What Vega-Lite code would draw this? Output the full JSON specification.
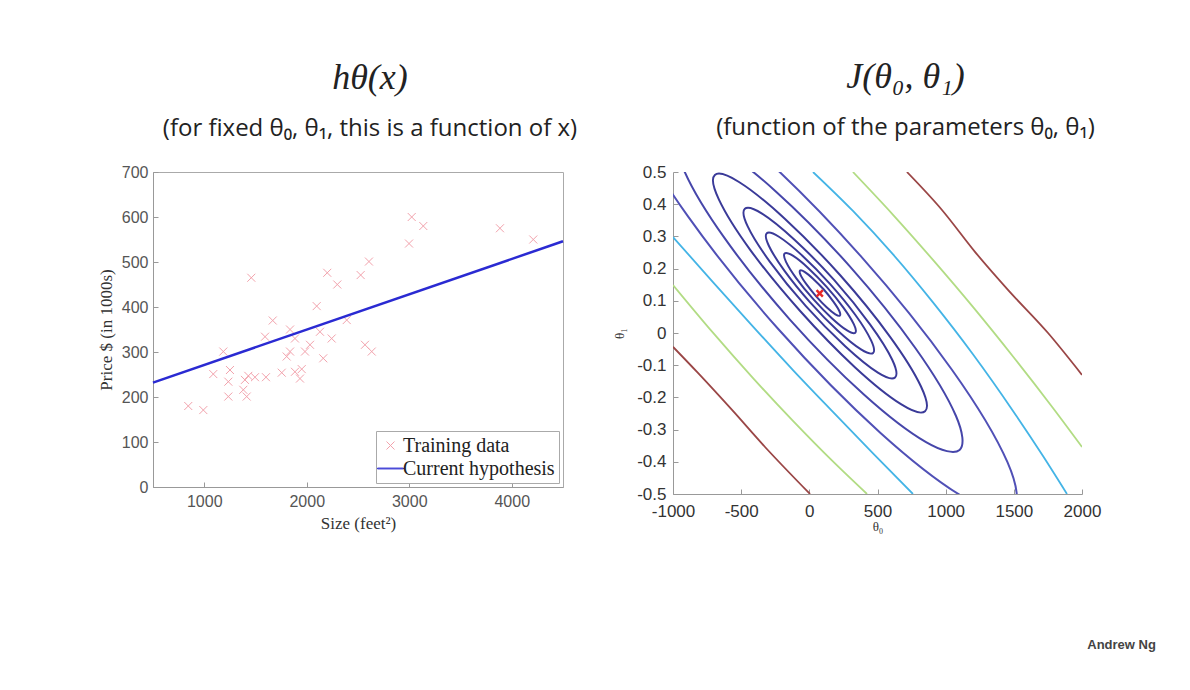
{
  "$schema": "https://vega.github.io/schema/vega-lite/v6.json",
  "background": "white",
  "padding": {"left": 96, "top": 59, "right": 5, "bottom": 5},
  "title": {"text": "Andrew Ng", "orient": "bottom", "anchor": "end", "font": "Liberation Sans", "fontSize": 13, "fontWeight": "bold", "color": "#444", "offset": 106, "dx": 55},
  "config": {
    "axis": {"grid": false, "domainColor": "#999", "tickColor": "#999", "labelFont": "Liberation Sans", "labelFontSize": 16, "labelColor": "#555", "titleFont": "Liberation Serif", "titleFontSize": 17, "titleFontWeight": "normal", "titleColor": "#333", "tickSize": -5, "labelOverlap": false, "labelFlush": false, "tickCount": 12}
  },
  "resolve": {"scale": {"color": "independent", "shape": "independent"}, "legend": {"color": "independent", "shape": "independent"}},
  "datasets": {
    "train": [
      {"size": 844, "price": 180, "series": "Training data"},
      {"size": 991, "price": 171, "series": "Training data"},
      {"size": 1088, "price": 251, "series": "Training data"},
      {"size": 1186, "price": 301, "series": "Training data"},
      {"size": 1251, "price": 260, "series": "Training data"},
      {"size": 1235, "price": 234, "series": "Training data"},
      {"size": 1235, "price": 201, "series": "Training data"},
      {"size": 1381, "price": 216, "series": "Training data"},
      {"size": 1414, "price": 201, "series": "Training data"},
      {"size": 1430, "price": 247, "series": "Training data"},
      {"size": 1495, "price": 244, "series": "Training data"},
      {"size": 1397, "price": 238, "series": "Training data"},
      {"size": 1459, "price": 465, "series": "Training data"},
      {"size": 1602, "price": 244, "series": "Training data"},
      {"size": 1668, "price": 370, "series": "Training data"},
      {"size": 1593, "price": 334, "series": "Training data"},
      {"size": 1756, "price": 254, "series": "Training data"},
      {"size": 1804, "price": 290, "series": "Training data"},
      {"size": 1837, "price": 301, "series": "Training data"},
      {"size": 1837, "price": 350, "series": "Training data"},
      {"size": 1885, "price": 256, "series": "Training data"},
      {"size": 1934, "price": 241, "series": "Training data"},
      {"size": 1951, "price": 262, "series": "Training data"},
      {"size": 1885, "price": 330, "series": "Training data"},
      {"size": 1983, "price": 301, "series": "Training data"},
      {"size": 2032, "price": 316, "series": "Training data"},
      {"size": 2097, "price": 402, "series": "Training data"},
      {"size": 2129, "price": 345, "series": "Training data"},
      {"size": 2161, "price": 286, "series": "Training data"},
      {"size": 2243, "price": 330, "series": "Training data"},
      {"size": 2390, "price": 371, "series": "Training data"},
      {"size": 2568, "price": 316, "series": "Training data"},
      {"size": 2634, "price": 301, "series": "Training data"},
      {"size": 2200, "price": 476, "series": "Training data"},
      {"size": 2298, "price": 450, "series": "Training data"},
      {"size": 2526, "price": 471, "series": "Training data"},
      {"size": 2607, "price": 501, "series": "Training data"},
      {"size": 3024, "price": 600, "series": "Training data"},
      {"size": 3137, "price": 580, "series": "Training data"},
      {"size": 2998, "price": 541, "series": "Training data"},
      {"size": 3885, "price": 575, "series": "Training data"},
      {"size": 4210, "price": 550, "series": "Training data"}
    ],
    "hyp": [
      {"size": 500, "price": 232, "series": "Current hypothesis"},
      {"size": 4500, "price": 546, "series": "Current hypothesis"}
    ],
    "closed": [
      {"id": "E1", "lvl": "e", "i": 0, "t0": 224, "t1": 0.054},
      {"id": "E1", "lvl": "e", "i": 1, "t0": 219, "t1": 0.069},
      {"id": "E1", "lvl": "e", "i": 2, "t0": 175, "t1": 0.098},
      {"id": "E1", "lvl": "e", "i": 3, "t0": 106, "t1": 0.135},
      {"id": "E1", "lvl": "e", "i": 4, "t0": 29, "t1": 0.168},
      {"id": "E1", "lvl": "e", "i": 5, "t0": -35, "t1": 0.190},
      {"id": "E1", "lvl": "e", "i": 6, "t0": -68, "t1": 0.194},
      {"id": "E1", "lvl": "e", "i": 7, "t0": -63, "t1": 0.179},
      {"id": "E1", "lvl": "e", "i": 8, "t0": -19, "t1": 0.150},
      {"id": "E1", "lvl": "e", "i": 9, "t0": 50, "t1": 0.114},
      {"id": "E1", "lvl": "e", "i": 10, "t0": 127, "t1": 0.080},
      {"id": "E1", "lvl": "e", "i": 11, "t0": 191, "t1": 0.058},
      {"id": "E2", "lvl": "e", "i": 0, "t0": 337, "t1": 0.001},
      {"id": "E2", "lvl": "e", "i": 1, "t0": 327, "t1": 0.027},
      {"id": "E2", "lvl": "e", "i": 2, "t0": 250, "t1": 0.079},
      {"id": "E2", "lvl": "e", "i": 3, "t0": 127, "t1": 0.143},
      {"id": "E2", "lvl": "e", "i": 4, "t0": -9, "t1": 0.202},
      {"id": "E2", "lvl": "e", "i": 5, "t0": -121, "t1": 0.240},
      {"id": "E2", "lvl": "e", "i": 6, "t0": -181, "t1": 0.247},
      {"id": "E2", "lvl": "e", "i": 7, "t0": -171, "t1": 0.221},
      {"id": "E2", "lvl": "e", "i": 8, "t0": -94, "t1": 0.169},
      {"id": "E2", "lvl": "e", "i": 9, "t0": 29, "t1": 0.105},
      {"id": "E2", "lvl": "e", "i": 10, "t0": 165, "t1": 0.046},
      {"id": "E2", "lvl": "e", "i": 11, "t0": 277, "t1": 0.008},
      {"id": "E3", "lvl": "e", "i": 0, "t0": 468, "t1": -0.062},
      {"id": "E3", "lvl": "e", "i": 1, "t0": 453, "t1": -0.023},
      {"id": "E3", "lvl": "e", "i": 2, "t0": 338, "t1": 0.056},
      {"id": "E3", "lvl": "e", "i": 3, "t0": 153, "t1": 0.152},
      {"id": "E3", "lvl": "e", "i": 4, "t0": -53, "t1": 0.241},
      {"id": "E3", "lvl": "e", "i": 5, "t0": -223, "t1": 0.299},
      {"id": "E3", "lvl": "e", "i": 6, "t0": -312, "t1": 0.310},
      {"id": "E3", "lvl": "e", "i": 7, "t0": -297, "t1": 0.271},
      {"id": "E3", "lvl": "e", "i": 8, "t0": -182, "t1": 0.193},
      {"id": "E3", "lvl": "e", "i": 9, "t0": 4, "t1": 0.096},
      {"id": "E3", "lvl": "e", "i": 10, "t0": 209, "t1": 0.007},
      {"id": "E3", "lvl": "e", "i": 11, "t0": 379, "t1": -0.051},
      {"id": "E4", "lvl": "e", "i": 0, "t0": 629, "t1": -0.138},
      {"id": "E4", "lvl": "e", "i": 1, "t0": 608, "t1": -0.083},
      {"id": "E4", "lvl": "e", "i": 2, "t0": 445, "t1": 0.027},
      {"id": "E4", "lvl": "e", "i": 3, "t0": 183, "t1": 0.164},
      {"id": "E4", "lvl": "e", "i": 4, "t0": -107, "t1": 0.289},
      {"id": "E4", "lvl": "e", "i": 5, "t0": -347, "t1": 0.371},
      {"id": "E4", "lvl": "e", "i": 6, "t0": -473, "t1": 0.386},
      {"id": "E4", "lvl": "e", "i": 7, "t0": -452, "t1": 0.331},
      {"id": "E4", "lvl": "e", "i": 8, "t0": -289, "t1": 0.221},
      {"id": "E4", "lvl": "e", "i": 9, "t0": -27, "t1": 0.084},
      {"id": "E4", "lvl": "e", "i": 10, "t0": 263, "t1": -0.041},
      {"id": "E4", "lvl": "e", "i": 11, "t0": 503, "t1": -0.123},
      {"id": "E5", "lvl": "e", "i": 0, "t0": 849, "t1": -0.243},
      {"id": "E5", "lvl": "e", "i": 1, "t0": 819, "t1": -0.166},
      {"id": "E5", "lvl": "e", "i": 2, "t0": 591, "t1": -0.011},
      {"id": "E5", "lvl": "e", "i": 3, "t0": 225, "t1": 0.180},
      {"id": "E5", "lvl": "e", "i": 4, "t0": -180, "t1": 0.355},
      {"id": "E5", "lvl": "e", "i": 5, "t0": -516, "t1": 0.469},
      {"id": "E5", "lvl": "e", "i": 6, "t0": -693, "t1": 0.491},
      {"id": "E5", "lvl": "e", "i": 7, "t0": -663, "t1": 0.414},
      {"id": "E5", "lvl": "e", "i": 8, "t0": -435, "t1": 0.259},
      {"id": "E5", "lvl": "e", "i": 9, "t0": -69, "t1": 0.069},
      {"id": "E5", "lvl": "e", "i": 10, "t0": 336, "t1": -0.107},
      {"id": "E5", "lvl": "e", "i": 11, "t0": 672, "t1": -0.221},
      {"id": "L6", "lvl": "l6", "i": 0, "t0": 1102, "t1": -0.363},
      {"id": "L6", "lvl": "l6", "i": 1, "t0": 1075, "t1": -0.257},
      {"id": "L6", "lvl": "l6", "i": 2, "t0": 780, "t1": -0.048},
      {"id": "L6", "lvl": "l6", "i": 3, "t0": 297, "t1": 0.207},
      {"id": "L6", "lvl": "l6", "i": 4, "t0": -244, "t1": 0.439},
      {"id": "L6", "lvl": "l6", "i": 5, "t0": -700, "t1": 0.587},
      {"id": "L6", "lvl": "l6", "i": 6, "t0": -946, "t1": 0.611},
      {"id": "L6", "lvl": "l6", "i": 7, "t0": -919, "t1": 0.505},
      {"id": "L6", "lvl": "l6", "i": 8, "t0": -624, "t1": 0.296},
      {"id": "L6", "lvl": "l6", "i": 9, "t0": -141, "t1": 0.041},
      {"id": "L6", "lvl": "l6", "i": 10, "t0": 400, "t1": -0.191},
      {"id": "L6", "lvl": "l6", "i": 11, "t0": 856, "t1": -0.339},
      {"id": "L7", "lvl": "l7", "i": 0, "t0": 1493, "t1": -0.549},
      {"id": "L7", "lvl": "l7", "i": 1, "t0": 1454, "t1": -0.402},
      {"id": "L7", "lvl": "l7", "i": 2, "t0": 1046, "t1": -0.114},
      {"id": "L7", "lvl": "l7", "i": 3, "t0": 379, "t1": 0.238},
      {"id": "L7", "lvl": "l7", "i": 4, "t0": -368, "t1": 0.559},
      {"id": "L7", "lvl": "l7", "i": 5, "t0": -996, "t1": 0.763},
      {"id": "L7", "lvl": "l7", "i": 6, "t0": -1337, "t1": 0.797},
      {"id": "L7", "lvl": "l7", "i": 7, "t0": -1298, "t1": 0.650},
      {"id": "L7", "lvl": "l7", "i": 8, "t0": -890, "t1": 0.362},
      {"id": "L7", "lvl": "l7", "i": 9, "t0": -223, "t1": 0.010},
      {"id": "L7", "lvl": "l7", "i": 10, "t0": 524, "t1": -0.311},
      {"id": "L7", "lvl": "l7", "i": 11, "t0": 1152, "t1": -0.515}
    ],
    "arcs": [
      {"id": "redL", "lvl": "red", "i": 0, "t0": -1000, "t1": -0.043},
      {"id": "redL", "lvl": "red", "i": 1, "t0": -817, "t1": -0.124},
      {"id": "redL", "lvl": "red", "i": 2, "t0": -567, "t1": -0.239},
      {"id": "redL", "lvl": "red", "i": 3, "t0": -325, "t1": -0.354},
      {"id": "redL", "lvl": "red", "i": 4, "t0": 5, "t1": -0.5},
      {"id": "redR", "lvl": "red", "i": 0, "t0": 716, "t1": 0.5},
      {"id": "redR", "lvl": "red", "i": 1, "t0": 973, "t1": 0.382},
      {"id": "redR", "lvl": "red", "i": 2, "t0": 1215, "t1": 0.252},
      {"id": "redR", "lvl": "red", "i": 3, "t0": 1457, "t1": 0.134},
      {"id": "redR", "lvl": "red", "i": 4, "t0": 1751, "t1": 0.0},
      {"id": "redR", "lvl": "red", "i": 5, "t0": 2000, "t1": -0.130},
      {"id": "greenL", "lvl": "green", "i": 0, "t0": -1000, "t1": 0.149},
      {"id": "greenL", "lvl": "green", "i": 1, "t0": -707, "t1": 0.001},
      {"id": "greenL", "lvl": "green", "i": 2, "t0": -413, "t1": -0.140},
      {"id": "greenL", "lvl": "green", "i": 3, "t0": -120, "t1": -0.273},
      {"id": "greenL", "lvl": "green", "i": 4, "t0": 173, "t1": -0.399},
      {"id": "greenL", "lvl": "green", "i": 5, "t0": 423, "t1": -0.5},
      {"id": "greenR", "lvl": "green", "i": 0, "t0": 320, "t1": 0.5},
      {"id": "greenR", "lvl": "green", "i": 1, "t0": 614, "t1": 0.367},
      {"id": "greenR", "lvl": "green", "i": 2, "t0": 907, "t1": 0.227},
      {"id": "greenR", "lvl": "green", "i": 3, "t0": 1200, "t1": 0.081},
      {"id": "greenR", "lvl": "green", "i": 4, "t0": 1494, "t1": -0.073},
      {"id": "greenR", "lvl": "green", "i": 5, "t0": 1787, "t1": -0.233},
      {"id": "greenR", "lvl": "green", "i": 6, "t0": 2000, "t1": -0.354},
      {"id": "cyanL", "lvl": "cyan", "i": 0, "t0": -1000, "t1": 0.298},
      {"id": "cyanL", "lvl": "cyan", "i": 1, "t0": -707, "t1": 0.158},
      {"id": "cyanL", "lvl": "cyan", "i": 2, "t0": -413, "t1": 0.020},
      {"id": "cyanL", "lvl": "cyan", "i": 3, "t0": -120, "t1": -0.115},
      {"id": "cyanL", "lvl": "cyan", "i": 4, "t0": 173, "t1": -0.245},
      {"id": "cyanL", "lvl": "cyan", "i": 5, "t0": 467, "t1": -0.374},
      {"id": "cyanL", "lvl": "cyan", "i": 6, "t0": 760, "t1": -0.5},
      {"id": "cyanR", "lvl": "cyan", "i": 0, "t0": 27, "t1": 0.5},
      {"id": "cyanR", "lvl": "cyan", "i": 1, "t0": 320, "t1": 0.379},
      {"id": "cyanR", "lvl": "cyan", "i": 2, "t0": 614, "t1": 0.244},
      {"id": "cyanR", "lvl": "cyan", "i": 3, "t0": 907, "t1": 0.095},
      {"id": "cyanR", "lvl": "cyan", "i": 4, "t0": 1200, "t1": -0.066},
      {"id": "cyanR", "lvl": "cyan", "i": 5, "t0": 1494, "t1": -0.242},
      {"id": "cyanR", "lvl": "cyan", "i": 6, "t0": 1714, "t1": -0.382},
      {"id": "cyanR", "lvl": "cyan", "i": 7, "t0": 1890, "t1": -0.5}
    ],
    "opt": [{"t0": 76, "t1": 0.123}]
  },
  "spacing": 110,
  "bounds": "flush",
  "hconcat": [
    {
      "width": 410,
      "height": 315,
      "view": {"stroke": "#aaa"},
      "title": {"text": "hθ(x)", "subtitle": "(for fixed θ₀, θ₁, this is a function of x)", "anchor": "middle", "font": "Liberation Serif", "fontStyle": "italic", "fontSize": 36, "fontWeight": "normal", "color": "#222", "subtitleFont": "Open Sans", "subtitleFontSize": 24, "subtitleColor": "#222", "subtitlePadding": 20, "offset": 22, "dx": 12},
      "layer": [
        {
          "data": {"name": "train"},
          "mark": {"type": "point", "filled": false, "size": 400, "strokeWidth": 1, "opacity": 1},
          "encoding": {
            "x": {"field": "size", "type": "quantitative", "scale": {"domain": [500, 4500], "nice": false, "zero": false}, "axis": {"title": "Size (feet²)", "values": [1000, 2000, 3000, 4000], "format": "d", "labelPadding": 11, "titlePadding": 6, "labelOverlap": false}},
            "y": {"field": "price", "type": "quantitative", "scale": {"domain": [0, 700], "nice": false}, "axis": {"title": "Price $ (in 1000s)", "values": [0, 100, 200, 300, 400, 500, 600, 700], "format": "d", "labelPadding": 10, "titlePadding": 6, "labelOverlap": false}},
            "color": {"field": "series", "type": "nominal", "scale": {"domain": ["Training data", "Current hypothesis"], "range": ["#f2a2ac", "#2a2ad2"]},
              "legend": {"title": null, "orient": "bottom-right", "offset": 4, "fillColor": "white", "strokeColor": "#aaa", "padding": 4, "labelFont": "Liberation Serif", "labelFontSize": 20, "labelColor": "#222", "symbolSize": 400, "symbolStrokeWidth": 1, "symbolOpacity": 1, "rowPadding": 2, "labelOffset": 2}},
            "shape": {"field": "series", "type": "nominal", "scale": {"domain": ["Training data", "Current hypothesis"], "range": ["M-0.4,-0.4L0.4,0.4M-0.4,0.4L0.4,-0.4", "M-1.3,-0.04L1.3,-0.04L1.3,0.04L-1.3,0.04Z"]},
              "legend": {"title": null, "orient": "bottom-right", "offset": 4, "fillColor": "white", "strokeColor": "#aaa", "padding": 4, "labelFont": "Liberation Serif", "labelFontSize": 20, "labelColor": "#222", "symbolSize": 400, "symbolStrokeWidth": 1, "symbolOpacity": 1, "rowPadding": 2, "labelOffset": 2}}
          }
        },
        {
          "data": {"name": "hyp"},
          "mark": {"type": "line", "strokeWidth": 2.5},
          "encoding": {
            "x": {"field": "size", "type": "quantitative"},
            "y": {"field": "price", "type": "quantitative"},
            "color": {"field": "series", "type": "nominal"}
          }
        }
      ]
    },
    {
      "width": 409,
      "height": 322,
      "view": {"stroke": null},
      "title": {"text": "J(θ₀, θ₁)", "subtitle": "(function of the parameters θ₀, θ₁)", "anchor": "middle", "font": "Liberation Serif", "fontStyle": "italic", "fontSize": 36, "fontWeight": "normal", "color": "#222", "subtitleFont": "Open Sans", "subtitleFontSize": 24, "subtitleColor": "#222", "subtitlePadding": 20, "offset": 22, "dx": 28},
      "layer": [
        {
          "data": {"name": "closed"},
          "mark": {"type": "line", "interpolate": "cardinal-closed", "strokeWidth": 2, "clip": true},
          "encoding": {
            "x": {"field": "t0", "type": "quantitative", "scale": {"domain": [-1000, 2000], "nice": false, "zero": false}, "axis": {"title": "θ₀", "titleFontSize": 13, "values": [-1000, -500, 0, 500, 1000, 1500, 2000], "labelExpr": "replace(format(datum.value, 'd'), '\u2212', '-')", "labelColor": "#333", "labelFontSize": 17, "labelPadding": 14, "titlePadding": 1, "labelOverlap": false}},
            "y": {"field": "t1", "type": "quantitative", "scale": {"domain": [-0.5, 0.5], "nice": false, "zero": false}, "axis": {"title": "θ₁", "titleFontSize": 13, "values": [-0.5, -0.4, -0.3, -0.2, -0.1, 0, 0.1, 0.2, 0.3, 0.4, 0.5], "labelExpr": "replace(format(datum.value, '.1~f'), '\u2212', '-')", "labelColor": "#333", "labelFontSize": 17, "labelPadding": 12, "titlePadding": 10, "labelOverlap": false}},
            "color": {"field": "lvl", "type": "nominal", "scale": {"domain": ["e", "l6", "l7", "cyan", "green", "red"], "range": ["#3a3a98", "#4646aa", "#5050b6", "#44b4e6", "#b2dc84", "#9a4646"]}, "legend": null},
            "detail": {"field": "id"},
            "order": {"field": "i", "type": "quantitative"}
          }
        },
        {
          "data": {"name": "arcs"},
          "mark": {"type": "line", "interpolate": "monotone", "strokeWidth": 1.8, "clip": true},
          "encoding": {
            "x": {"field": "t0", "type": "quantitative"},
            "y": {"field": "t1", "type": "quantitative"},
            "color": {"field": "lvl", "type": "nominal", "legend": null},
            "detail": {"field": "id"},
            "order": {"field": "i", "type": "quantitative"}
          }
        },
        {
          "data": {"name": "opt"},
          "mark": {"type": "point", "shape": "M-1,-1L1,1M-1,1L1,-1", "filled": false, "size": 40, "strokeWidth": 2.5, "color": "#e82828", "opacity": 1},
          "encoding": {
            "x": {"field": "t0", "type": "quantitative"},
            "y": {"field": "t1", "type": "quantitative"}
          }
        }
      ]
    }
  ]
}
